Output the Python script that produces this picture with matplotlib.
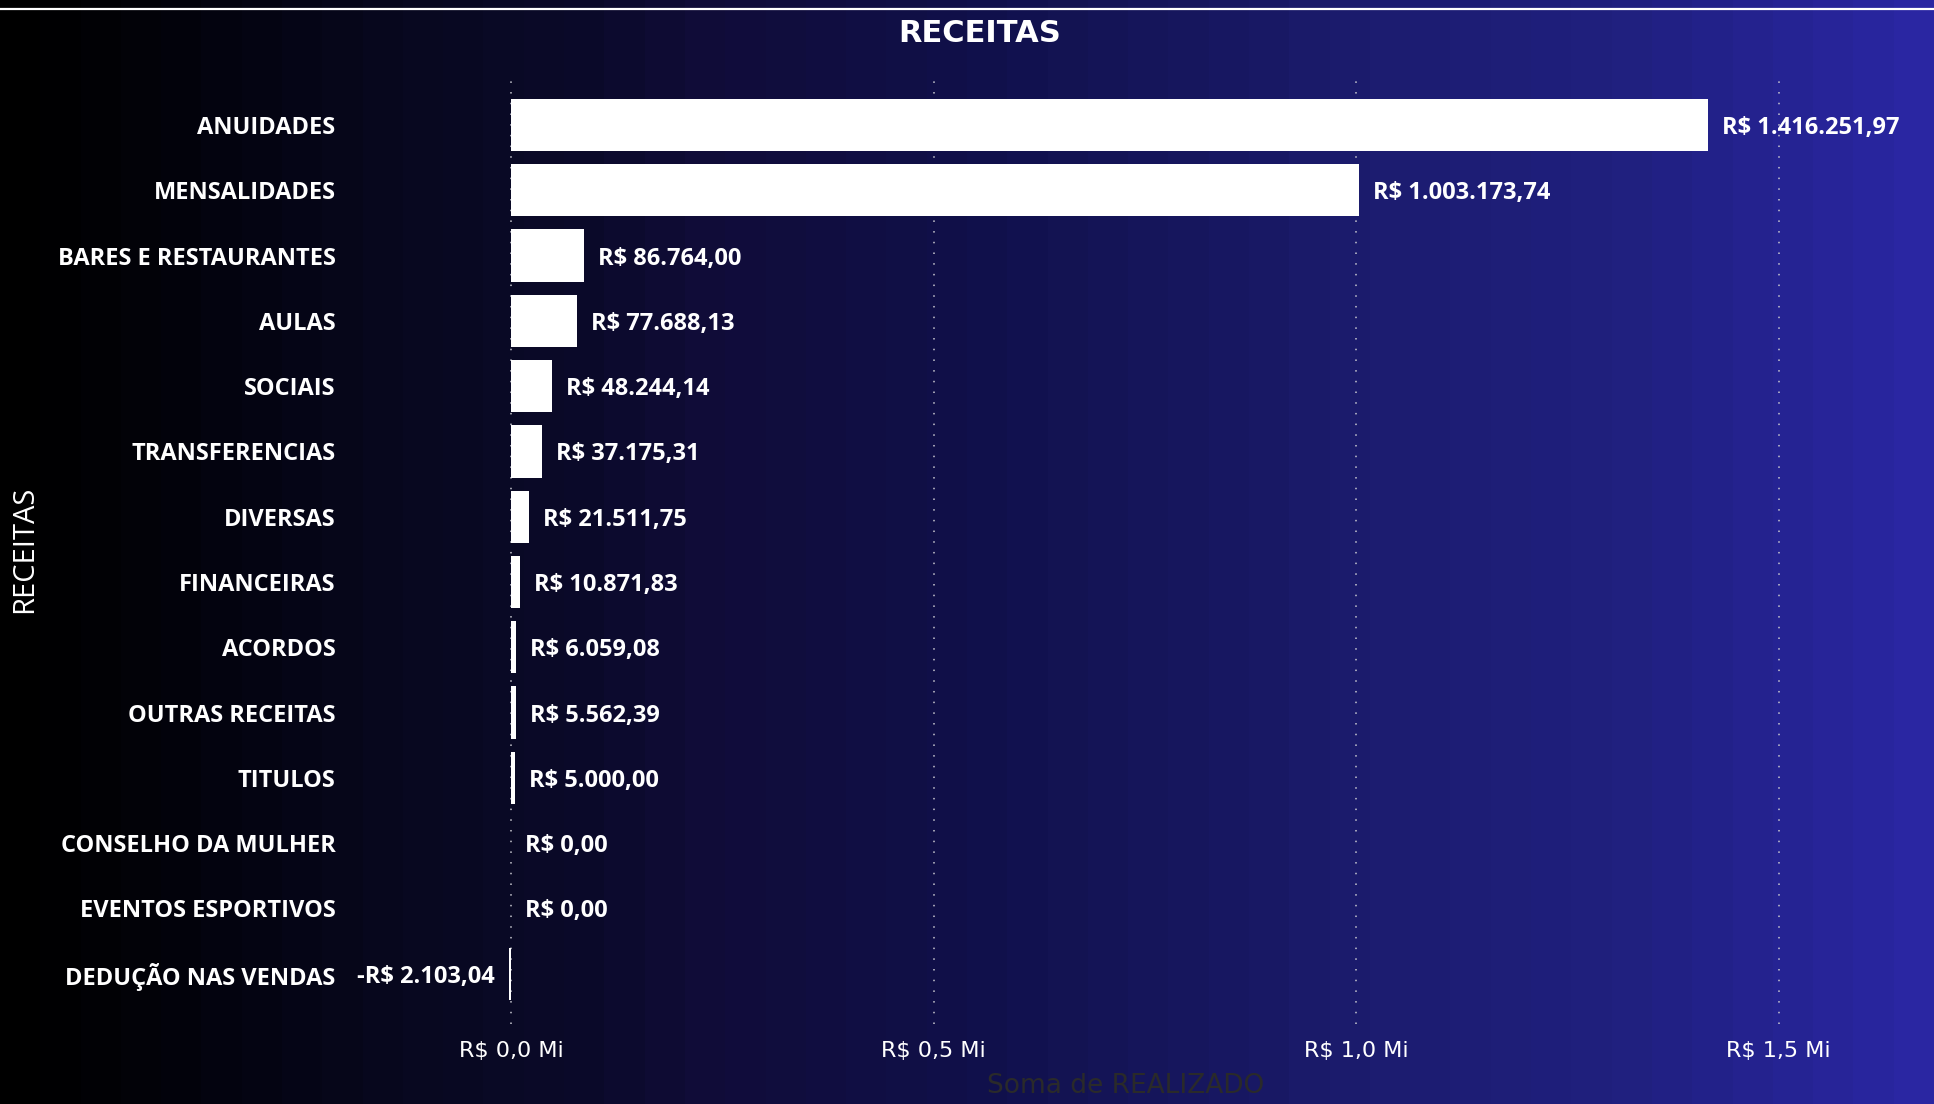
import matplotlib
import matplotlib.pyplot as plt
import numpy as np
from matplotlib.colors import LinearSegmentedColormap
from matplotlib.lines import Line2D

matplotlib.use("Agg")

# dados
categories = [
    "ANUIDADES", "MENSALIDADES", "BARES E RESTAURANTES", "AULAS", "SOCIAIS",
    "TRANSFERENCIAS", "DIVERSAS", "FINANCEIRAS", "ACORDOS", "OUTRAS RECEITAS",
    "TITULOS", "CONSELHO DA MULHER", "EVENTOS ESPORTIVOS", "DEDUÇÃO NAS VENDAS",
]
values = [
    1416251.97, 1003173.74, 86764.00, 77688.13, 48244.14,
    37175.31, 21511.75, 10871.83, 6059.08, 5562.39,
    5000.00, 0.0, 0.0, -2103.04,
]
xticks = [0, 500000, 1000000, 1500000]

# fundo em gradiente horizontal
bgStops = [
    (0.00, "#000000"), (0.06, "#020208"), (0.20, "#08081f"), (0.30, "#0b0a2a"),
    (0.36, "#100c38"), (0.50, "#10104a"), (0.62, "#17175e"), (0.72, "#1c1c70"),
    (0.85, "#20207f"), (1.00, "#2a26a2"),
]


def brl(v):
    s = f"{abs(v):,.2f}".replace(",", "X").replace(".", ",").replace("X", ".")
    return ("-R$ " if v < 0 else "R$ ") + s


def mi(v, _pos=None):
    return f"R$ {v / 1e6:.1f} Mi".replace(".", ",")


fig = plt.figure(figsize=(19.34, 11.04), dpi=100)

bg = fig.add_axes([0, 0, 1, 1])
cmap = LinearSegmentedColormap.from_list("bg", bgStops)
bg.imshow(np.linspace(0, 1, 48).reshape(1, -1), cmap=cmap, aspect="auto",
          extent=[0, 1, 0, 1], interpolation="nearest")
bg.set_axis_off()
fig.add_artist(Line2D([0, 1], [1 - 9 / 1104] * 2, color="white", lw=1.6,
                      transform=fig.transFigure))

ax = fig.add_axes([505 / 1934, 80 / 1104, 1419 / 1934, 948 / 1104])
ax.patch.set_alpha(0)
y = np.arange(len(categories))
ax.barh(y, values, height=0.8, color="white", zorder=3)
ax.set_xlim(-7100, 1.672e6)
ax.set_ylim(13.77, -0.75)

for v, yy in zip(values, y):
    if v < 0:
        ax.annotate(brl(v), (v, yy), xytext=(-14, 0), textcoords="offset pixels",
                    ha="right", va="center_baseline", color="white", fontsize=17,
                    fontweight="bold", family="Open Sans")
    else:
        ax.annotate(brl(v), (v, yy), xytext=(14, 0), textcoords="offset pixels",
                    ha="left", va="center_baseline", color="white", fontsize=17,
                    fontweight="bold", family="Open Sans")

ax.set_yticks(y)
ax.set_yticklabels(categories, fontsize=17, fontweight="bold",
                   family="Open Sans", color="white", va="center_baseline")
ax.set_xticks(xticks)
ax.xaxis.set_major_formatter(mi)
ax.tick_params(axis="y", length=0, pad=122)
ax.tick_params(axis="x", length=0, pad=12, labelcolor="white", labelsize=16)

ax.grid(axis="x", color="#c8c8d0", linestyle=(0, (1, 6)), linewidth=1.1, zorder=1)
ax.set_axisbelow(True)
for sp in ax.spines.values():
    sp.set_visible(False)

fig.text(980 / 1934, 1 - 34 / 1104, "RECEITAS", ha="center", va="center",
         color="white", fontsize=22, fontweight="bold")
fig.text(25 / 1934, 1 - 549 / 1104, "RECEITAS", ha="center", va="center",
         rotation=90, color="white", fontsize=21, family="Open Sans")
fig.text(1126 / 1934, 1 - 1086 / 1104, "Soma de REALIZADO", ha="center",
         va="center", color="#2a2a2a", fontsize=19)

fig.savefig("out.png", dpi=100)
